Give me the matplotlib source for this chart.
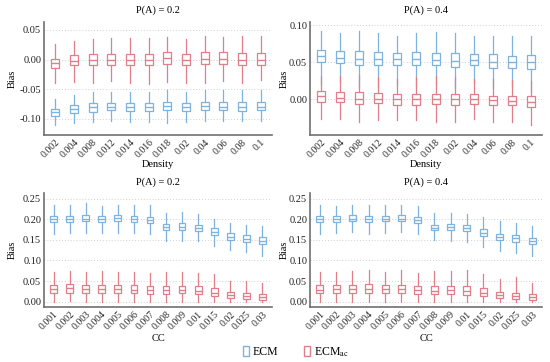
import matplotlib
matplotlib.use("Agg")
import matplotlib.pyplot as plt
from matplotlib.patches import Patch

plt.rcParams['font.family'] = ['Liberation Serif', 'DejaVu Serif']
plt.rcParams['mathtext.fontset'] = 'stix'

BLUE = '#7fb3df'
RED = '#e07f8a'

density = ['0.002', '0.004', '0.008', '0.012', '0.014', '0.016', '0.018', '0.02', '0.04', '0.06', '0.08', '0.1']
cc = ['0.001', '0.002', '0.003', '0.004', '0.005', '0.006', '0.007', '0.008', '0.009', '0.01', '0.015', '0.02', '0.025', '0.03']

# Panel 1: P(A)=0.2, Density
p1_ecm_med = [-0.089, -0.084, -0.081, -0.080, -0.081, -0.081, -0.079, -0.080, -0.079, -0.080, -0.080, -0.080]
p1_ecm_q1 = [-0.095, -0.091, -0.088, -0.086, -0.087, -0.087, -0.086, -0.087, -0.086, -0.086, -0.087, -0.086]
p1_ecm_q3 = [-0.083, -0.077, -0.074, -0.073, -0.074, -0.074, -0.071, -0.073, -0.071, -0.072, -0.072, -0.072]
p1_ecm_lo = [-0.111, -0.107, -0.105, -0.104, -0.106, -0.105, -0.107, -0.105, -0.104, -0.104, -0.103, -0.103]
p1_ecm_hi = [-0.066, -0.060, -0.055, -0.055, -0.054, -0.054, -0.052, -0.055, -0.051, -0.051, -0.051, -0.052]
p1_ac_med = [-0.006, -0.002, -0.001, 0.000, 0.000, -0.001, 0.002, -0.001, 0.001, 0.001, 0.000, 0.000]
p1_ac_q1 = [-0.015, -0.010, -0.010, -0.009, -0.009, -0.010, -0.007, -0.010, -0.008, -0.008, -0.009, -0.009]
p1_ac_q3 = [0.001, 0.008, 0.009, 0.010, 0.010, 0.009, 0.012, 0.009, 0.012, 0.012, 0.011, 0.011]
p1_ac_lo = [-0.039, -0.038, -0.040, -0.037, -0.039, -0.041, -0.038, -0.039, -0.040, -0.037, -0.039, -0.035]
p1_ac_hi = [0.027, 0.032, 0.035, 0.036, 0.037, 0.036, 0.038, 0.034, 0.039, 0.038, 0.039, 0.039]

# Panel 2: P(A)=0.4, Density
p2_ecm_med = [0.058, 0.056, 0.055, 0.054, 0.054, 0.054, 0.053, 0.052, 0.053, 0.051, 0.050, 0.050]
p2_ecm_q1 = [0.050, 0.049, 0.046, 0.046, 0.046, 0.046, 0.046, 0.044, 0.046, 0.043, 0.043, 0.041]
p2_ecm_q3 = [0.067, 0.065, 0.065, 0.064, 0.062, 0.064, 0.063, 0.062, 0.061, 0.061, 0.059, 0.060]
p2_ecm_lo = [0.020, 0.023, 0.015, 0.017, 0.020, 0.018, 0.020, 0.015, 0.022, 0.015, 0.018, 0.012]
p2_ecm_hi = [0.092, 0.089, 0.093, 0.090, 0.086, 0.090, 0.091, 0.090, 0.085, 0.086, 0.085, 0.085]
p2_ac_med = [0.004, 0.002, 0.001, 0.001, 0.000, 0.000, 0.000, 0.000, 0.000, -0.001, -0.002, -0.003]
p2_ac_q1 = [-0.003, -0.004, -0.006, -0.005, -0.007, -0.007, -0.006, -0.007, -0.006, -0.008, -0.008, -0.010]
p2_ac_q3 = [0.012, 0.010, 0.010, 0.009, 0.008, 0.008, 0.008, 0.008, 0.008, 0.005, 0.005, 0.005]
p2_ac_lo = [-0.026, -0.026, -0.031, -0.028, -0.028, -0.028, -0.030, -0.030, -0.026, -0.031, -0.030, -0.034]
p2_ac_hi = [0.032, 0.032, 0.033, 0.030, 0.028, 0.030, 0.032, 0.030, 0.028, 0.028, 0.026, 0.025]

# Panel 3: P(A)=0.2, CC
p3_ecm_med = [0.200, 0.201, 0.202, 0.201, 0.203, 0.201, 0.198, 0.181, 0.182, 0.179, 0.170, 0.158, 0.153, 0.148]
p3_ecm_q1 = [0.193, 0.194, 0.195, 0.194, 0.196, 0.194, 0.190, 0.174, 0.174, 0.172, 0.163, 0.150, 0.146, 0.140]
p3_ecm_q3 = [0.208, 0.209, 0.210, 0.208, 0.210, 0.209, 0.206, 0.188, 0.190, 0.186, 0.178, 0.166, 0.161, 0.156]
p3_ecm_lo = [0.165, 0.167, 0.168, 0.166, 0.168, 0.166, 0.165, 0.148, 0.147, 0.147, 0.135, 0.125, 0.120, 0.111]
p3_ecm_hi = [0.236, 0.236, 0.240, 0.233, 0.236, 0.236, 0.235, 0.215, 0.218, 0.212, 0.200, 0.190, 0.187, 0.185]
p3_ac_med = [0.030, 0.032, 0.030, 0.031, 0.030, 0.029, 0.028, 0.028, 0.029, 0.027, 0.022, 0.016, 0.013, 0.011]
p3_ac_q1 = [0.021, 0.022, 0.021, 0.021, 0.021, 0.020, 0.019, 0.019, 0.020, 0.018, 0.013, 0.008, 0.006, 0.005]
p3_ac_q3 = [0.041, 0.042, 0.040, 0.041, 0.041, 0.040, 0.038, 0.038, 0.039, 0.037, 0.032, 0.024, 0.020, 0.018]
p3_ac_lo = [0.000, 0.001, 0.000, 0.000, 0.000, 0.000, 0.000, 0.000, 0.000, 0.000, 0.000, 0.000, 0.000, 0.000]
p3_ac_hi = [0.073, 0.075, 0.073, 0.075, 0.072, 0.073, 0.070, 0.071, 0.073, 0.070, 0.068, 0.050, 0.050, 0.045]

# Panel 4: P(A)=0.4, CC
p4_ecm_med = [0.200, 0.201, 0.202, 0.201, 0.202, 0.202, 0.198, 0.180, 0.181, 0.179, 0.168, 0.157, 0.154, 0.148]
p4_ecm_q1 = [0.193, 0.194, 0.195, 0.194, 0.195, 0.195, 0.191, 0.173, 0.174, 0.172, 0.160, 0.150, 0.146, 0.140]
p4_ecm_q3 = [0.208, 0.209, 0.210, 0.209, 0.209, 0.210, 0.206, 0.187, 0.189, 0.186, 0.177, 0.164, 0.161, 0.155]
p4_ecm_lo = [0.165, 0.167, 0.170, 0.165, 0.168, 0.170, 0.165, 0.150, 0.148, 0.145, 0.132, 0.122, 0.118, 0.112]
p4_ecm_hi = [0.235, 0.233, 0.236, 0.236, 0.235, 0.236, 0.232, 0.215, 0.215, 0.214, 0.205, 0.197, 0.192, 0.185]
p4_ac_med = [0.029, 0.030, 0.030, 0.031, 0.030, 0.030, 0.028, 0.027, 0.028, 0.027, 0.022, 0.016, 0.014, 0.011]
p4_ac_q1 = [0.020, 0.020, 0.020, 0.020, 0.020, 0.020, 0.019, 0.018, 0.019, 0.017, 0.013, 0.008, 0.006, 0.004]
p4_ac_q3 = [0.040, 0.040, 0.040, 0.042, 0.040, 0.040, 0.037, 0.038, 0.039, 0.038, 0.032, 0.024, 0.021, 0.018]
p4_ac_lo = [0.000, 0.000, 0.000, 0.000, 0.000, 0.000, 0.000, 0.000, 0.000, 0.000, 0.000, 0.000, 0.000, 0.000]
p4_ac_hi = [0.072, 0.073, 0.075, 0.076, 0.072, 0.078, 0.070, 0.075, 0.075, 0.076, 0.068, 0.055, 0.060, 0.046]

def stats(med, q1, q3, lo, hi):
    return [dict(med=m, q1=a, q3=b, whislo=l, whishi=h, fliers=[])
            for m, a, b, l, h in zip(med, q1, q3, lo, hi)]

fig = plt.figure(figsize=(5.5, 3.62), dpi=100)
W, H = 550, 362
def ax_at(l, t, r, b):
    return fig.add_axes([l / W, 1 - b / H, (r - l) / W, (b - t) / H])

# (axes, categories, xlabel, title, ecm stats, ac stats, ylim, yticks, xlabel y, ylabel x, title y)
panels = [
    (ax_at(44, 22, 272, 135), density, 'Density', 'P(A) = 0.2',
     stats(p1_ecm_med, p1_ecm_q1, p1_ecm_q3, p1_ecm_lo, p1_ecm_hi),
     stats(p1_ac_med, p1_ac_q1, p1_ac_q3, p1_ac_lo, p1_ac_hi),
     (-0.1275, 0.0635), [-0.10, -0.05, 0.00, 0.05], -0.257, -0.14, 1.106),
    (ax_at(310, 22, 542, 135), density, 'Density', 'P(A) = 0.4',
     stats(p2_ecm_med, p2_ecm_q1, p2_ecm_q3, p2_ecm_lo, p2_ecm_hi),
     stats(p2_ac_med, p2_ac_q1, p2_ac_q3, p2_ac_lo, p2_ac_hi),
     (-0.048, 0.1045), [0.00, 0.05, 0.10], -0.257, -0.11, 1.106),
    (ax_at(44, 193, 272, 307), cc, 'CC', 'P(A) = 0.2',
     stats(p3_ecm_med, p3_ecm_q1, p3_ecm_q3, p3_ecm_lo, p3_ecm_hi),
     stats(p3_ac_med, p3_ac_q1, p3_ac_q3, p3_ac_lo, p3_ac_hi),
     (-0.013, 0.264), [0.00, 0.05, 0.10, 0.15, 0.20, 0.25], -0.272, -0.14, 1.096),
    (ax_at(310, 193, 542, 307), cc, 'CC', 'P(A) = 0.4',
     stats(p4_ecm_med, p4_ecm_q1, p4_ecm_q3, p4_ecm_lo, p4_ecm_hi),
     stats(p4_ac_med, p4_ac_q1, p4_ac_q3, p4_ac_lo, p4_ac_hi),
     (-0.013, 0.264), [0.00, 0.05, 0.10, 0.15, 0.20, 0.25], -0.272, -0.11, 1.096),
]

for ax, cats, xlabel, title, s_ecm, s_ac, ylim, yticks, xly, ylx, ty in panels:
    pos = list(range(1, len(cats) + 1))
    for st, col in ((s_ecm, BLUE), (s_ac, RED)):
        ax.bxp(st, positions=pos, widths=0.42, showfliers=False, showcaps=False,
               patch_artist=True,
               boxprops=dict(facecolor='white', edgecolor=col, linewidth=0.9),
               medianprops=dict(color=col, linewidth=1.0),
               whiskerprops=dict(color=col, linewidth=0.9))
    ax.set_xlim(0.4, len(cats) + 0.6)
    ax.set_ylim(*ylim)
    ax.set_yticks(yticks)
    ax.set_yticklabels(['%.2f' % v for v in yticks], fontsize=7.5, color='#222222')
    ax.set_xticks(pos)
    ax.set_xticklabels(cats, rotation=45, ha='right', rotation_mode='anchor',
                       fontsize=7, color='#222222')
    ax.tick_params(length=0, pad=2)
    ax.grid(axis='y', linestyle=(0, (1, 2)), color='#d0d0d0', linewidth=0.7)
    ax.set_axisbelow(True)
    for sp in ('top', 'right'):
        ax.spines[sp].set_visible(False)
    for sp in ('left', 'bottom'):
        ax.spines[sp].set_color('#707070')
        ax.spines[sp].set_linewidth(1.2)
    ax.set_xlabel(xlabel, fontsize=7.5, va='center')
    ax.xaxis.set_label_coords(0.5, xly)
    ax.set_ylabel('Bias', fontsize=7.5, va='center')
    ax.yaxis.set_label_coords(ylx, 0.5)
    ax.text(0.5, ty, title, transform=ax.transAxes, ha='center', va='center', fontsize=7.5)

handles = [Patch(facecolor='white', edgecolor=BLUE, label='ECM'),
           Patch(facecolor='white', edgecolor=RED, label=r'ECM$_{\mathrm{ac}}$')]
fig.legend(handles=handles, loc='center', bbox_to_anchor=(296 / W, 1 - 352 / H), ncol=2,
           frameon=False, fontsize=8.5, handlelength=0.5, handleheight=1.0,
           handletextpad=0.3, columnspacing=2.2)

fig.savefig('out.png', dpi=100)
